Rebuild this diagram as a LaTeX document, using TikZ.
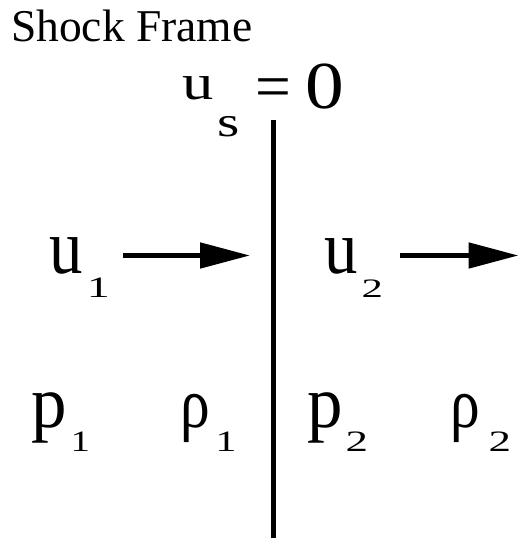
\documentclass[tikz,border=0pt]{standalone}
\usepackage{fontspec}
\setmainfont{Liberation Serif}
\newfontfamily\tnr{Liberation Serif}
\usetikzlibrary{arrows.meta}
\newcommand{\glyphat}[6]{\node[glyphbox] (#1) at (#2pt,#3pt) {\scalebox{#4}[#5]{\fontsize{100}{100}\selectfont\tnr #6}};}
\tikzset{
  glyphbox/.style={inner sep=0pt, outer sep=0pt, anchor=base west},
  flowarrow/.style={line width=5pt, -{Triangle[length=50pt,width=25pt]}},
  shockline/.style={line width=5.5pt}
}
\begin{document}
\begin{tikzpicture}[x=1pt,y=1pt]
\useasboundingbox (0,0) rectangle (519,538);
% title
\node[inner sep=0pt, anchor=base west, font=\fontsize{45.5}{45.5}\selectfont\tnr] (title) at (11,496) {Shock Frame};
% u_s = 0
\glyphat{usu}{182.4}{438}{0.625}{0.5}{u}
\glyphat{uss}{217.1}{401.5}{0.572}{0.426}{s}
\glyphat{eq}{255.1}{429.9}{0.635}{0.652}{=}
\glyphat{zero}{305.1}{429}{0.774}{0.671}{0}
% shock
\coordinate (shocktop) at (273.5,418);
\coordinate (shockbot) at (273.5,0);
\draw[shockline] (shocktop) -- (shockbot);
% u1
\glyphat{uone}{49.4}{264}{0.667}{0.783}{u}
\glyphat{uonesub}{86.9}{240}{0.459}{0.296}{1}
\coordinate (a1s) at (123,282.5);
\coordinate (a1e) at (250,282.5);
\draw[flowarrow] (a1s) -- (a1e);
% u2
\glyphat{utwo}{324.4}{264}{0.667}{0.761}{u}
\glyphat{utwosub}{361.7}{240}{0.427}{0.266}{2}
\coordinate (a2s) at (400,282.5);
\coordinate (a2e) at (518.5,282.5);
\draw[flowarrow] (a2s) -- (a2e);
% p1 rho1
\glyphat{pone}{31.6}{110}{0.71}{0.739}{p}
\glyphat{ponesub}{70.7}{86}{0.389}{0.296}{1}
\glyphat{rone}{180.6}{110.4}{0.595}{0.709}{ρ}
\glyphat{ronesub}{215.3}{86}{0.424}{0.296}{1}
% p2 rho2
\glyphat{ptwo}{307.6}{110}{0.71}{0.739}{p}
\glyphat{ptwosub}{345.65}{86}{0.449}{0.296}{2}
\glyphat{rtwo}{450.6}{110.4}{0.595}{0.709}{ρ}
\glyphat{rtwosub}{488.65}{86}{0.449}{0.296}{2}
\end{tikzpicture}
\end{document}
